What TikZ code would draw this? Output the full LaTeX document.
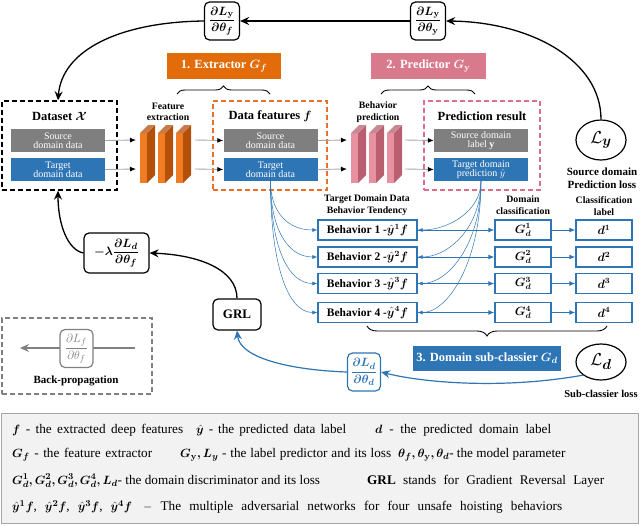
\documentclass[tikz,border=0pt]{standalone}
\usepackage{amsmath,bm}
\usepackage{fontspec}
\setmainfont{Liberation Serif}
\usetikzlibrary{arrows.meta,decorations.pathreplacing,shapes.geometric}
\definecolor{cgray}{RGB}{127,127,127}
\definecolor{cblue}{RGB}{46,117,182}
\definecolor{corange}{RGB}{226,107,10}
\definecolor{corangeD}{RGB}{180,80,10}
\definecolor{corangeL}{RGB}{240,125,35}
\definecolor{cpink}{RGB}{217,122,140}
\definecolor{cpinkL}{RGB}{232,145,160}
\definecolor{cpinkD}{RGB}{185,95,112}
\definecolor{dorange}{RGB}{237,110,40}
\definecolor{dpink}{RGB}{222,110,135}
\definecolor{legbg}{RGB}{242,242,242}
\newcommand{\myslab}[3]{%
  \fill[#3] (#1+7,133) -- (#1+15,125) -- (#1+15,175) -- (#1+7,183) -- cycle;
  \fill[#2] (#1,133) rectangle (#1+7,183);
  \fill[#3!75!white] (#1,133) -- (#1+8,125) -- (#1+15,125) -- (#1+7,133) -- cycle;
}
\newcommand{\wbox}[2]{\makebox[#1][s]{#2}}
\tikzset{
  ttl/.style={font=\fontsize{12.5}{14}\selectfont\bfseries},
  lbl/.style={font=\fontsize{9.8}{11.5}\selectfont\bfseries, align=center},
  databox/.style={minimum width=94pt, minimum height=23pt, inner sep=0pt, text=white, align=center, font=\fontsize{10}{10.5}\selectfont},
  srcbox/.style={databox, fill=cgray},
  tgtbox/.style={databox, fill=cblue},
  framebox/.style={dash pattern=on 5pt off 3pt, line width=1.3pt, minimum height=89pt, inner sep=0pt},
  gradbox/.style={draw, rounded corners=5pt, line width=1.2pt, fill=white, minimum width=35pt, minimum height=38pt, inner sep=1pt, font=\fontsize{12.5}{13}\selectfont},
  headbox/.style={minimum height=26pt, text=white, font=\fontsize{12.5}{13}\selectfont\bfseries},
  behbox/.style={draw=cblue, line width=1.4pt, fill=white, minimum height=20pt, inner sep=0pt, font=\fontsize{11.5}{12}\selectfont\bfseries},
  flow/.style={draw=gray!70, line width=0.9pt, -{Latex[length=6pt,width=5pt,color=black]}},
  fb/.style={line width=1.3pt, -{Stealth[length=9pt,width=8pt,inset=3pt]}},
  bl/.style={draw=cblue, line width=0.5pt, -{Latex[length=5pt,width=4pt]}},
  bh/.style={draw=cblue, line width=0.9pt, -{Latex[length=6pt,width=5pt]}},
  brc/.style={decorate, decoration={brace, amplitude=8pt}, line width=0.9pt},
  legtxt/.style={anchor=west, inner sep=0pt, font=\fontsize{13.2}{15}\selectfont},
  lossell/.style={draw, ellipse, line width=1.2pt, minimum width=50pt, minimum height=40pt, inner sep=0pt, font=\fontsize{19}{20}\selectfont},
}
\begin{document}
\begin{tikzpicture}[x=1pt,y=-1pt]
\useasboundingbox (0,0) rectangle (640,525);

% top gradient boxes
\node[gradbox] (dyf) at (222,21) {$\dfrac{\bm{\partial L_{\mathbf{y}}}}{\bm{\partial \theta_f}}$};
\node[gradbox] (dyy) at (428,21) {$\dfrac{\bm{\partial L_{\mathbf{y}}}}{\bm{\partial \theta_{\mathbf{y}}}}$};

% heads
\node[headbox, fill=corange, minimum width=114pt] (ext) at (224,66) {1. Extractor $\bm{G_f}$};
\node[headbox, fill=cpink, minimum width=115pt] (pre) at (428.5,66) {2. Predictor $\bm{G_{\mathbf{y}}}$};
\draw[brc] (177,94) -- (270,94);
\draw[brc] (381,94) -- (475,94);

% frames
\node[framebox, draw=black, minimum width=115pt] (ds) at (59.5,145.5) {};
\node[framebox, draw=dorange, minimum width=114pt] (fd) at (270,145.5) {};
\node[framebox, draw=dpink, minimum width=116pt] (pr) at (482,145.5) {};
\node[ttl] (dst) at (59.5,116) {Dataset $\bm{\mathcal{X}}$};
\node[ttl] (fdt) at (270,116) {Data features $\bm{f}$};
\node[ttl] (prt) at (482,116) {Prediction result};

\node[srcbox] (ds1) at (58,140.5) {Source\\[-1.5pt]domain data};
\node[tgtbox] (ds2) at (58,169.5) {Target\\[-1.5pt]domain data};
\node[srcbox] (fd1) at (270.5,140.5) {Source\\[-1.5pt]domain data};
\node[tgtbox] (fd2) at (270.5,169.5) {Target\\[-1.5pt]domain data};
\node[srcbox] (pr1) at (481,140.5) {Source domain\\[-1.5pt]label $\mathbf{y}$};
\node[tgtbox] (pr2) at (481,169.5) {Target domain\\[-1.5pt]prediction $\hat{y}$};

% slabs
\myslab{140}{corangeL}{corangeD}
\myslab{158}{corangeL}{corangeD}
\myslab{176}{corangeL}{corangeD}
\myslab{351}{cpinkL}{cpinkD}
\myslab{369}{cpinkL}{cpinkD}
\myslab{387}{cpinkL}{cpinkD}
\node[lbl] (fel) at (168,112) {Feature\\extraction};
\node[lbl] (bpl) at (378,112) {Behavior\\prediction};

\coordinate (oi1) at (136,140); \coordinate (oi2) at (136,169);
\coordinate (oo1) at (195,140); \coordinate (oo2) at (195,169);
\coordinate (pi1) at (347,140); \coordinate (pi2) at (347,169);
\coordinate (po1) at (405,140); \coordinate (po2) at (405,169);
\draw[flow] (ds1.east) -- (oi1);
\draw[flow] (ds2.east) -- (oi2);
\draw[flow] (oo1) -- (fd1.west);
\draw[flow] (oo2) -- (fd2.west);
\draw[flow] (fd1.east) -- (pi1);
\draw[flow] (fd2.east) -- (pi2);
\draw[flow] (po1) -- (pr1.west);
\draw[flow] (po2) -- (pr2.west);

% loss Ly
\node[lossell] (ly) at (601,140) {$\mathcal{L}_{\bm{y}}$};
\node[lbl, font=\fontsize{11}{12.5}\selectfont\bfseries] (lyl) at (602,178) {Source domain\\Prediction loss};

% feedback top
\draw[fb] (dyy.west) -- (dyf.east);
\draw[fb] (ly.north) .. controls (601,60) and (530,22) .. (dyy.east);
\draw[fb] (dyf.west) .. controls (120,22) and (62,50) .. (ds.north -| 58,0);

% behavior area
\node[lbl] (tdl) at (367,205) {Target Domain Data\\Behavior Tendency};
\node[lbl] (dcl) at (523,205) {Domain\\classification};
\node[lbl] (cll) at (604,206) {Classification\\label};

\foreach \i/\yy in {1/230,2/257,3/283.5,4/312.5}{
  \node[behbox, minimum width=99pt] (b\i) at (367.5,\yy) {Behavior \i\ -$\bm{\hat{y}^{\i}f}$};
  \node[behbox, minimum width=56pt] (g\i) at (523,\yy) {$\bm{G_d^{\i}}$};
  \node[behbox, minimum width=56pt] (d\i) at (604,\yy) {$\bm{d^{\i}}$};
}
\foreach \i/\dy in {1/49,2/76,3/102.5,4/131.5}{
  \draw[bl] (fd2.south) .. controls +(0,0.62*\dy) and +(-30,0) .. (b\i.west);
  \draw[bl] (pr2.south) .. controls +(0,0.62*\dy) and +(30,0) .. (b\i.east);
  \draw[bh] (b\i.east) -- (g\i.west);
  \draw[bh] (g\i.east) -- (d\i.west);
}

\draw[brc, decoration={brace, amplitude=10pt}] (607,326) -- (367,326);
\node[headbox, fill=cblue, minimum width=144pt, minimum height=25pt] (sub) at (487,358.5) {3. Domain sub-classier $\bm{G_d}$};

\node[lossell, minimum height=36pt] (ld) at (601,362) {$\mathcal{L}_{\bm{d}}$};
\node[lbl, font=\fontsize{10.5}{12}\selectfont\bfseries] (ldl) at (601,394) {Sub-classier loss};

\node[gradbox, draw=cblue, text=cblue, minimum width=33pt] (gdd) at (364,372) {$\dfrac{\bm{\partial L_d}}{\bm{\partial \theta_d}}$};
\node[gradbox, minimum width=48pt, minimum height=31pt, font=\fontsize{13}{14}\selectfont\bfseries] (grl) at (237,314.5) {GRL};
\node[gradbox, minimum width=65pt, minimum height=40pt] (lam) at (116.5,253) {$\bm{-\lambda}\dfrac{\bm{\partial L_d}}{\bm{\partial \theta_f}}$};

\draw[fb, draw=cblue, line width=1.2pt] (ld.south west) .. controls (500,390) and (420,382) .. (gdd.east);
\draw[fb, draw=cblue, line width=1.2pt] (gdd.west) .. controls (290,370) and (240,358) .. (grl.south);
\draw[fb] (grl.north) .. controls (237,270) and (200,255) .. (lam.east);
\draw[fb] (lam.west) .. controls (68,250) and (58,225) .. (ds.south -| 58,0);

% back-propagation legend
\node[framebox, draw=gray, line width=1.1pt, minimum width=150pt, minimum height=76pt] (bp) at (77,356) {};
\coordinate (bpr) at (135,348);
\coordinate (bpl) at (20,348);
\draw[draw=gray, line width=1.4pt, -{Stealth[length=9pt,width=8pt,inset=3pt]}] (bpr) -- (bpl);
\node[gradbox, draw=gray, text=gray, minimum width=33pt] (blf) at (76.5,348.5) {$\dfrac{\partial L_f}{\partial \theta_f}$};
\node[lbl, font=\fontsize{11}{12}\selectfont\bfseries] (bpt) at (76,381) {Back-propagation};

% bottom legend
\node[draw=gray!70, fill=legbg, line width=0.8pt, minimum width=637pt, minimum height=110pt, inner sep=0pt] (leg) at (319.5,468) {};
\node[legtxt] (t11) at (12,430) {\wbox{171pt}{$\bm{f}$ - the extracted deep features}};
\node[legtxt] (t12) at (196,430) {\wbox{150pt}{$\bm{\hat{y}}$ - the predicted data label}};
\node[legtxt] (t13) at (375,430) {\wbox{176pt}{$\bm{d}$ - the predicted domain label}};
\node[legtxt] (t21) at (12,455) {\wbox{140pt}{$\bm{G_f}$ - the feature extractor}};
\node[legtxt] (t22) at (180,455) {\wbox{211pt}{$\bm{G_{\mathbf{y}}, L_y}$ - the label predictor and its loss}};
\node[legtxt] (t23) at (398,455) {$\bm{\theta_f, \theta_{\mathbf{y}}, \theta_d}$- the model parameter};
\node[legtxt] (t31) at (12,481) {$\bm{G_d^1, G_d^2, G_d^3, G_d^4, L_d}$- the domain discriminator and its loss};
\node[legtxt] (t32) at (367,481) {\wbox{237pt}{\textbf{GRL} stands for Gradient Reversal Layer}};
\node[legtxt] (t41) at (12,507) {$\bm{\hat{y}^1 f}$,\hspace{8pt}$\bm{\hat{y}^2 f}$,\hspace{8pt}$\bm{\hat{y}^3 f}$,\hspace{8pt}$\bm{\hat{y}^4 f}$};
\node[legtxt] (t42) at (143,507) {\wbox{419pt}{$-$ The multiple adversarial networks for four unsafe hoisting behaviors}};
\end{tikzpicture}
\end{document}
